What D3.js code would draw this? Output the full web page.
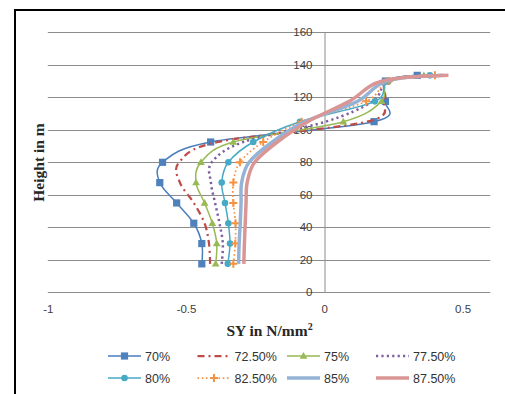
<!DOCTYPE html>
<html>
<head>
<meta charset="utf-8">
<script src="https://cdn.jsdelivr.net/npm/d3@7"></script>
<style>
  html, body { margin: 0; padding: 0; background: #fff; }
  svg { display: block; }
</style>
</head>
<body>
<svg id="chart" width="505" height="394"></svg>
<script>
// Storey heights (m) at which the stress SY was evaluated
const heights = [17.5, 30, 42.5, 55, 67.5, 80, 92.5, 105, 117.5, 130, 133.5];

// SY (N/mm²) for each opening ratio
const sy70  = [-0.443, -0.443, -0.472, -0.534, -0.595, -0.585, -0.411, 0.180, 0.221, 0.221, 0.336];
const sy725 = [-0.413, -0.417, -0.433, -0.472, -0.522, -0.525, -0.385, 0.155, 0.218, 0.225, 0.350];
const sy75  = [-0.393, -0.389, -0.405, -0.433, -0.464, -0.446, -0.329, 0.069, 0.207, 0.228, 0.360];
const sy775 = [-0.371, -0.367, -0.379, -0.395, -0.410, -0.407, -0.293, 0.005, 0.175, 0.230, 0.370];
const sy80  = [-0.349, -0.341, -0.347, -0.359, -0.371, -0.347, -0.257, -0.088, 0.183, 0.232, 0.382];
const sy825 = [-0.329, -0.322, -0.321, -0.329, -0.329, -0.305, -0.221, -0.082, 0.151, 0.235, 0.400];
const sy85  = [-0.310, -0.308, -0.304, -0.301, -0.299, -0.272, -0.188, -0.070, 0.120, 0.225, 0.430];
const sy875 = [-0.291, -0.289, -0.286, -0.283, -0.279, -0.252, -0.170, -0.060, 0.090, 0.210, 0.449];

const seriesNames = ["70%", "72.50%", "75%", "77.50%", "80%", "82.50%", "85%", "87.50%"];
const seriesValues = [sy70, sy725, sy75, sy775, sy80, sy825, sy85, sy875];

const xTicks = [-1, -0.5, 0, 0.5];
const xTickLabels = ["-1", "-0.5", "0", "0.5"];
const yTicks = [0, 20, 40, 60, 80, 100, 120, 140, 160];

// Line and marker styling per series
const styles = [
  { color: "#4A7EBB", width: 1.5, dash: null, marker: "square" },
  { color: "#BE4B48", width: 2.25, dash: "7,4,2,4", marker: null },
  { color: "#98B954", width: 1.5, dash: null, marker: "triangle" },
  { color: "#7D60A0", width: 2.5, dash: "2.2,3.2", marker: null },
  { color: "#46AAC5", width: 1.5, dash: null, marker: "circle" },
  { color: "#F69240", width: 1.75, dash: "1.6,2.6", marker: "plus" },
  { color: "#95B3D7", width: 3.5, dash: null, marker: null },
  { color: "#D99694", width: 3.5, dash: null, marker: null }
];

const svg = d3.select("#chart");

const x = d3.scaleLinear().domain([-1, 0.6]).range([47.8, 490.2]);
const y = d3.scaleLinear().domain([0, 160]).range([292.3, 32.3]);

// Outer frame
svg.append("rect")
  .attr("x", 15).attr("y", 10).attr("width", 500).attr("height", 400)
  .attr("fill", "none").attr("stroke", "#000").attr("stroke-width", 2);

// Horizontal gridlines
svg.append("g")
  .selectAll("line")
  .data(yTicks)
  .join("line")
  .attr("x1", x(-1)).attr("x2", x(0.6))
  .attr("y1", d => Math.round(y(d)) + 0.5).attr("y2", d => Math.round(y(d)) + 0.5)
  .attr("stroke", "#8c8c8c").attr("stroke-width", 1);

// Vertical axis at SY = 0
const yAxis = svg.append("g")
  .attr("transform", `translate(${Math.round(x(0)) + 0.5},0)`)
  .call(d3.axisLeft(y).tickValues(yTicks).tickSize(0).tickPadding(12).tickFormat(d3.format("d")));
yAxis.select(".domain").attr("stroke", "#8c8c8c");
yAxis.selectAll("text")
  .attr("font-family", "'Liberation Sans', Arial, sans-serif")
  .attr("font-size", 11.5)
  .attr("fill", "#404040");

// Horizontal axis labels
const xAxis = svg.append("g")
  .attr("transform", `translate(0,${y(0)})`)
  .call(d3.axisBottom(x).tickValues(xTicks).tickSize(0).tickPadding(13)
    .tickFormat((d, i) => xTickLabels[i]));
xAxis.select(".domain").remove();
xAxis.selectAll("text")
  .attr("font-family", "'Liberation Sans', Arial, sans-serif")
  .attr("font-size", 11.5)
  .attr("fill", "#404040");

// Axis titles
const xTitle = svg.append("text")
  .attr("x", 269.5).attr("y", 336)
  .attr("text-anchor", "middle")
  .attr("font-family", "'Liberation Serif', 'Times New Roman', serif")
  .attr("font-weight", "bold").attr("font-size", 15.5)
  .attr("fill", "#262626");
xTitle.append("tspan").text("SY in N/mm");
xTitle.append("tspan").attr("dy", -6).attr("font-size", 10).text("2");

svg.append("text")
  .attr("transform", "translate(43.5,162.5) rotate(-90)")
  .attr("text-anchor", "middle")
  .attr("font-family", "'Liberation Serif', 'Times New Roman', serif")
  .attr("font-weight", "bold").attr("font-size", 15.5)
  .attr("fill", "#262626")
  .text("Height in m");

// Series lines (smoothed)
const line = d3.line()
  .x(d => x(d[0]))
  .y(d => y(d[1]))
  .curve(d3.curveCatmullRom.alpha(0));

function drawMarker(g, kind, color, cx, cy) {
  if (kind === "square") {
    g.append("rect").attr("x", cx - 3.6).attr("y", cy - 3.6)
      .attr("width", 7.2).attr("height", 7.2).attr("fill", "#4F81BD");
  } else if (kind === "triangle") {
    g.append("path")
      .attr("d", d3.symbol(d3.symbolTriangle, 26)())
      .attr("transform", `translate(${cx},${cy + 0.5})`)
      .attr("fill", color);
  } else if (kind === "circle") {
    g.append("circle").attr("cx", cx).attr("cy", cy).attr("r", 3.3).attr("fill", color);
  } else if (kind === "plus") {
    g.append("path")
      .attr("d", `M${cx - 4},${cy}H${cx + 4}M${cx},${cy - 4}V${cy + 4}`)
      .attr("stroke", color).attr("stroke-width", 2).attr("fill", "none");
  }
}

const plot = svg.append("g");
seriesValues.forEach((vals, i) => {
  const st = styles[i];
  const pts = vals.map((v, j) => [v, heights[j]]);
  const g = plot.append("g");
  g.append("path")
    .attr("d", line(pts))
    .attr("fill", "none")
    .attr("stroke", st.color)
    .attr("stroke-width", st.width)
    .attr("stroke-dasharray", st.dash)
    .attr("stroke-linejoin", "round");
  if (st.marker) {
    pts.forEach(p => drawMarker(g, st.marker, st.color, x(p[0]), y(p[1])));
  }
});

// Legend
const legendCols = [108, 197.5, 287, 376];
const legendRows = [356, 378];
const legend = svg.append("g");
seriesNames.forEach((name, i) => {
  const st = styles[i];
  const lx = legendCols[i % 4];
  const ly = legendRows[Math.floor(i / 4)];
  const g = legend.append("g");
  g.append("line")
    .attr("x1", lx).attr("x2", lx + 33)
    .attr("y1", ly).attr("y2", ly)
    .attr("stroke", st.color)
    .attr("stroke-width", st.width)
    .attr("stroke-dasharray", st.dash);
  if (st.marker) drawMarker(g, st.marker, st.color, lx + 16.5, ly);
  g.append("text")
    .attr("x", lx + 37).attr("y", ly + 4.5)
    .attr("font-family", "'Liberation Sans', Arial, sans-serif")
    .attr("font-size", 12.5)
    .attr("fill", "#333")
    .text(name);
});
</script>
</body>
</html>
